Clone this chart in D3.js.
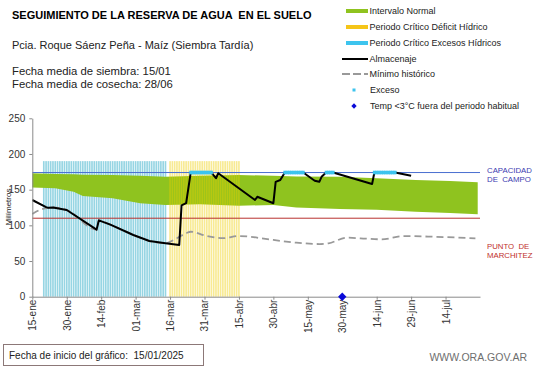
<!DOCTYPE html>
<html>
<head>
<meta charset="utf-8">
<style>
  body { margin: 0; background: #fff; }
  svg { font-family: "Liberation Sans", Arial, sans-serif; }
  .axis path, .axis line { stroke: #8a8a8a; }
  .axis text { fill: #333; font-size: 10px; font-family: "Liberation Sans", Arial, sans-serif; }
  .leg { font-size: 9px; fill: #222; }
</style>
<script src="https://cdn.jsdelivr.net/npm/d3@7"></script>
</head>
<body>
<script>
// ---- data ----
const xTickDates  = ["2025-01-15","2025-01-30","2025-02-14","2025-03-01","2025-03-16","2025-03-31","2025-04-15","2025-04-30","2025-05-15","2025-05-30","2025-06-14","2025-06-29","2025-07-14"];
const xTickLabels = ["15-ene","30-ene","14-feb","01-mar","16-mar","31-mar","15-abr","30-abr","15-may","30-may","14-jun","29-jun","14-jul"];
const yTicks = [0, 50, 100, 150, 200, 250];

const capacidadCampo = 174;
const puntoMarchitez = 110;

// intervalo normal (banda verde)
const normalDates = ["2025-01-15","2025-01-25","2025-02-02","2025-02-06","2025-02-19","2025-03-03","2025-03-14","2025-03-29","2025-04-15","2025-04-30","2025-05-10","2025-05-29","2025-06-14","2025-07-01","2025-07-16","2025-07-28"];
const normalHigh  = [173, 172, 171.5, 171, 170.5, 169.5, 168, 169.5, 170.5, 169.5, 168.5, 168, 166, 163.5, 162, 160.3];
const normalLow   = [153, 152, 147, 141, 138, 131, 128.5, 129.5, 127.5, 128.5, 125, 123, 122, 119, 117.3, 115.5];

// periodos criticos
const excesoPeriod  = ["2025-01-20", "2025-03-14"];
const deficitPeriod = ["2025-03-16", "2025-04-15"];
const periodHeight = 190;

// almacenaje
const storageDates  = ["2025-01-15","2025-01-21","2025-01-22","2025-01-24","2025-01-30","2025-02-12","2025-02-13","2025-02-18","2025-02-28","2025-03-07","2025-03-14","2025-03-20","2025-03-21","2025-03-23","2025-03-25","2025-04-03","2025-04-05","2025-04-06","2025-04-22","2025-04-23","2025-04-30","2025-05-01","2025-05-03","2025-05-05","2025-05-13","2025-05-18","2025-05-20","2025-05-21","2025-05-23","2025-05-26","2025-06-12","2025-06-13","2025-06-22","2025-06-29"];
const storageValues = [135.5, 125.5, 124.5, 125, 121.5, 94, 107, 101, 86.5, 78, 75, 72.5, 128, 131, 174, 174, 166, 173, 135.5, 140, 131, 161, 163.5, 174, 174, 162.5, 161, 168, 174, 174, 158, 174, 174, 169.5];

// minimo historico
const minDates  = ["2025-01-15","2025-01-19","2025-01-22","2025-01-24","2025-01-30","2025-02-12","2025-02-13","2025-02-18","2025-02-28","2025-03-07","2025-03-14","2025-03-19","2025-03-23","2025-03-25","2025-04-01","2025-04-08","2025-04-15","2025-04-30","2025-05-10","2025-05-20","2025-05-24","2025-06-01","2025-06-07","2025-06-16","2025-06-26","2025-07-09","2025-07-27"];
const minValues = [116, 122.5, 124.5, 125, 121.5, 94, 107, 101, 86.5, 78, 75, 82, 89, 91, 85, 82, 85, 79.5, 75.7, 73.8, 74.8, 82.7, 81.8, 80.4, 85, 84, 81.8];

// dias con exceso
const excesoDates = [
  "2025-03-25","2025-03-26","2025-03-27","2025-03-28","2025-03-29","2025-03-30","2025-03-31","2025-04-01","2025-04-02","2025-04-03",
  "2025-05-05","2025-05-06","2025-05-07","2025-05-08","2025-05-09","2025-05-10","2025-05-11","2025-05-12","2025-05-13",
  "2025-05-23","2025-05-24","2025-05-25","2025-05-26",
  "2025-06-13","2025-06-14","2025-06-15","2025-06-16","2025-06-17","2025-06-18","2025-06-19","2025-06-20","2025-06-21","2025-06-22"
];
const frioDates = ["2025-05-30"];

const legendLabels = ["Intervalo Normal", "Periodo Crítico Déficit Hídrico", "Periodo Crítico Excesos Hídricos", "Almacenaje", "Mínimo histórico", "Exceso", "Temp <3°C fuera del periodo habitual"];

// ---- drawing ----
const W = 541, H = 368;
const parse = d3.timeParse("%Y-%m-%d");

const svg = d3.select("body").append("svg")
  .attr("width", W)
  .attr("height", H);

const x = d3.scaleTime()
  .domain([parse("2025-01-15"), parse("2025-07-29")])
  .range([32.3, 480]);
const y = d3.scaleLinear()
  .domain([0, 250])
  .range([296.7, 118.3]);

const dayW = x(parse("2025-01-16")) - x(parse("2025-01-15"));

// critical periods as daily columns
function stripes(period, color, opacity) {
  const days = d3.timeDay.range(parse(period[0]), d3.timeDay.offset(parse(period[1]), 1));
  svg.append("g")
    .attr("opacity", opacity)
    .selectAll("rect")
    .data(days)
    .join("rect")
      .attr("x", d => x(d) - dayW * 0.36)
      .attr("width", dayW * 0.72)
      .attr("y", y(periodHeight))
      .attr("height", y(0) - y(periodHeight))
      .attr("fill", color);
}

stripes(excesoPeriod, "#96d5e3", 1);

// normal band
const band = normalDates.map((d, i) => ({ date: parse(d), hi: normalHigh[i], lo: normalLow[i] }));
svg.append("path")
  .attr("d", d3.area().x(d => x(d.date)).y0(d => y(d.lo)).y1(d => y(d.hi))(band))
  .attr("fill", "#8fc31f");

stripes(deficitPeriod, "#efcf00", 0.42);

// reference lines
svg.append("line")
  .attr("x1", x.range()[0]).attr("x2", x.range()[1])
  .attr("y1", y(capacidadCampo)).attr("y2", y(capacidadCampo))
  .attr("stroke", "#4a6fd0").attr("stroke-width", 1);
svg.append("line")
  .attr("x1", x.range()[0]).attr("x2", x.range()[1])
  .attr("y1", y(puntoMarchitez)).attr("y2", y(puntoMarchitez))
  .attr("stroke", "#b8312f").attr("stroke-width", 1);

// minimo historico
const minData = minDates.map((d, i) => ({ date: parse(d), v: minValues[i] }));
svg.append("path")
  .attr("d", d3.line().x(d => x(d.date)).y(d => y(d.v)).curve(d3.curveMonotoneX)(minData))
  .attr("fill", "none")
  .attr("stroke", "#999")
  .attr("stroke-width", 1.8)
  .attr("stroke-dasharray", "7,4");

// almacenaje
const storage = storageDates.map((d, i) => ({ date: parse(d), v: storageValues[i] }));
svg.append("path")
  .attr("d", d3.line().x(d => x(d.date)).y(d => y(d.v))(storage))
  .attr("fill", "none")
  .attr("stroke", "#000")
  .attr("stroke-width", 2)
  .attr("stroke-linejoin", "round");

// exceso markers
svg.append("g").selectAll("rect")
  .data(excesoDates.map(parse))
  .join("rect")
    .attr("x", d => x(d) - 1.5)
    .attr("y", y(capacidadCampo) - 1.8)
    .attr("width", 3)
    .attr("height", 3.6)
    .attr("fill", "#3dc4ee");

// axes
const yAxis = svg.append("g")
  .attr("class", "axis")
  .attr("transform", `translate(${x.range()[0]},0)`)
  .call(d3.axisLeft(y).tickValues(yTicks).tickSize(3).tickSizeOuter(0).tickPadding(4));

const xAxis = svg.append("g")
  .attr("class", "axis")
  .attr("transform", `translate(0,${y(0)})`)
  .call(d3.axisBottom(x)
    .tickValues(xTickDates.map(parse))
    .tickFormat((d, i) => xTickLabels[i])
    .tickSize(3).tickSizeOuter(0));
xAxis.selectAll("text")
  .attr("transform", "rotate(-90)")
  .attr("text-anchor", "end")
  .attr("x", -3)
  .attr("y", 0)
  .attr("dy", "0.35em");

// frost marker (diamond)
svg.append("g").selectAll("path")
  .data(frioDates.map(parse))
  .join("path")
    .attr("transform", d => `translate(${x(d)},${y(0)})`)
    .attr("d", d3.symbol(d3.symbolDiamond2, 45)())
    .attr("fill", "#0a0ad8");

// y label
svg.append("text")
  .attr("transform", "translate(10.5,207) rotate(-90)")
  .attr("text-anchor", "middle")
  .attr("font-size", 8)
  .attr("fill", "#222")
  .text("Milímetros");

// right labels
const rightLab = [
  { t: "CAPACIDAD", y: 173, c: "#3b3bb0" },
  { t: "DE  CAMPO", y: 182, c: "#3b3bb0" },
  { t: "PUNTO  DE", y: 249, c: "#c0302c" },
  { t: "MARCHITEZ", y: 258, c: "#c0302c" }
];
svg.append("g").selectAll("text")
  .data(rightLab)
  .join("text")
    .attr("x", 487)
    .attr("y", d => d.y)
    .attr("font-size", 7.8)
    .attr("fill", d => d.c)
    .style("white-space", "pre")
    .text(d => d.t);

// titles
svg.append("text")
  .attr("x", 12).attr("y", 19)
  .attr("font-size", 11).attr("font-weight", "bold")
  .text("SEGUIMIENTO DE LA RESERVA DE AGUA  EN EL SUELO")
  .style("white-space", "pre");
svg.append("text")
  .attr("x", 12).attr("y", 49)
  .attr("font-size", 11).attr("fill", "#222")
  .text("Pcia. Roque Sáenz Peña - Maíz (Siembra Tardía)");
svg.append("text")
  .attr("x", 12).attr("y", 75)
  .attr("font-size", 11.3).attr("fill", "#222")
  .text("Fecha media de siembra: 15/01");
svg.append("text")
  .attr("x", 12).attr("y", 87.5)
  .attr("font-size", 11.3).attr("fill", "#222")
  .text("Fecha media de cosecha: 28/06");

// legend
const legY = [11, 27, 43, 59, 74, 90, 106];
const lg = svg.append("g");
lg.append("rect").attr("x", 346).attr("y", legY[0] - 2).attr("width", 22).attr("height", 4).attr("fill", "#8fc31f");
lg.append("rect").attr("x", 346).attr("y", legY[1] - 2).attr("width", 22).attr("height", 4).attr("fill", "#f5c518");
lg.append("rect").attr("x", 346).attr("y", legY[2] - 2).attr("width", 22).attr("height", 4).attr("fill", "#3dc4ee");
lg.append("line").attr("x1", 342).attr("x2", 368).attr("y1", legY[3]).attr("y2", legY[3]).attr("stroke", "#000").attr("stroke-width", 2);
lg.append("line").attr("x1", 342).attr("x2", 368).attr("y1", legY[4]).attr("y2", legY[4]).attr("stroke", "#999").attr("stroke-width", 1.8).attr("stroke-dasharray", "8,3");
lg.append("rect").attr("x", 352.5).attr("y", legY[5] - 1.5).attr("width", 3).attr("height", 3).attr("fill", "#3dc4ee");
lg.append("path").attr("transform", `translate(354,${legY[6]})`).attr("d", d3.symbol(d3.symbolDiamond2, 18)()).attr("fill", "#0a0ad8");
lg.selectAll("text")
  .data(legendLabels)
  .join("text")
    .attr("class", "leg")
    .attr("x", (d, i) => i >= 5 ? 370 : 369.5)
    .attr("y", (d, i) => legY[i] + 3.2)
    .text(d => d);

// footer
svg.append("rect")
  .attr("x", 3.5).attr("y", 344.5).attr("width", 200).attr("height", 21)
  .attr("fill", "none").attr("stroke", "#8c7878");
svg.append("text")
  .attr("x", 9).attr("y", 359)
  .attr("font-size", 10).attr("fill", "#222")
  .style("white-space", "pre")
  .text("Fecha de inicio del gráfico:  15/01/2025");
svg.append("text")
  .attr("x", 527).attr("y", 361)
  .attr("text-anchor", "end")
  .attr("font-size", 10.5).attr("fill", "#6e6e6e")
  .text("WWW.ORA.GOV.AR");
</script>
</body>
</html>
